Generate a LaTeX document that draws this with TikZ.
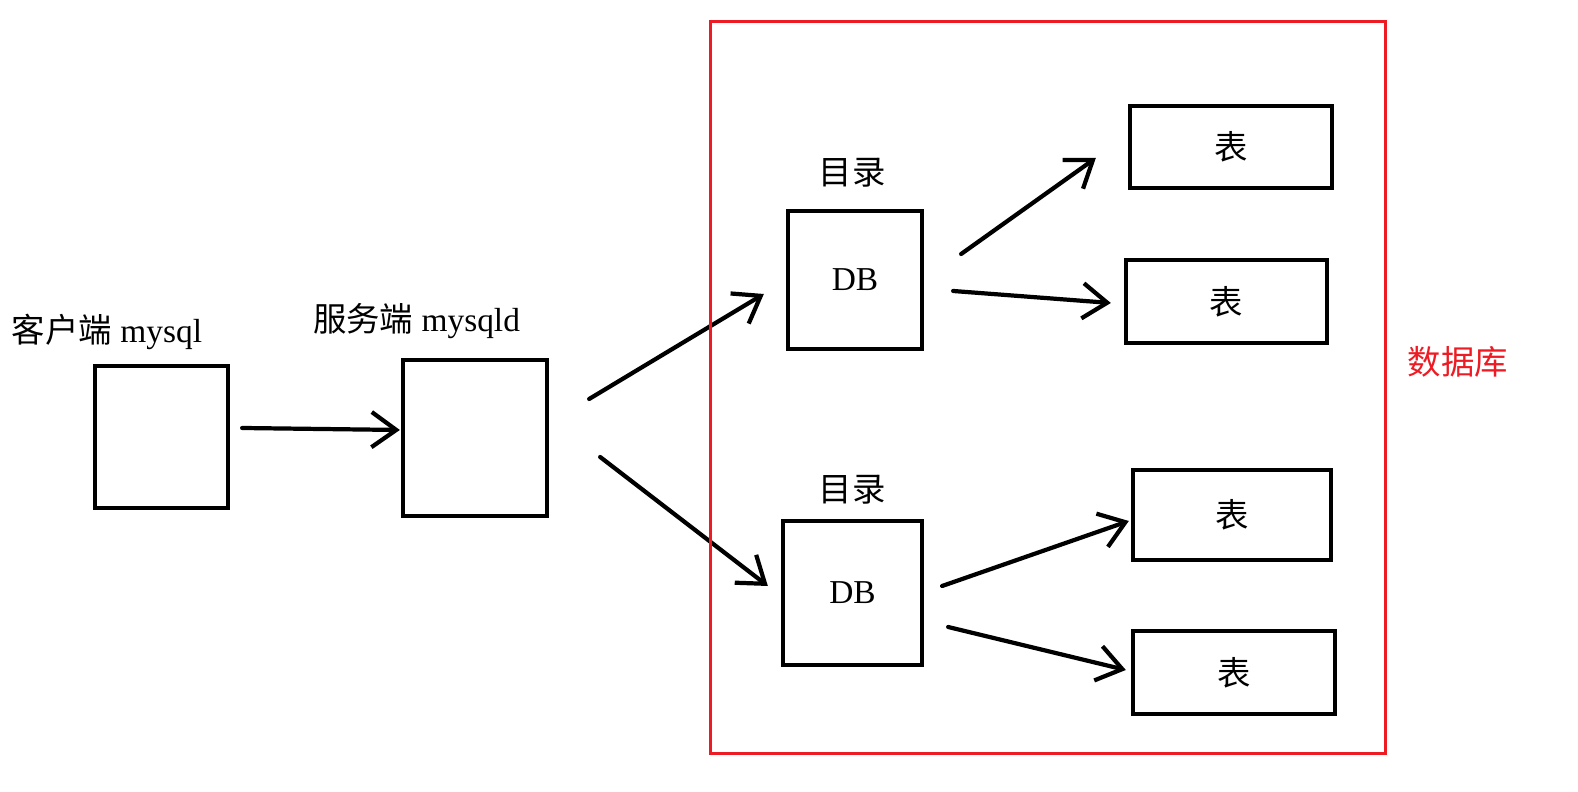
\documentclass[tikz,border=0pt]{standalone}
\usepackage{fontspec}
\setmainfont{Liberation Serif}
\newfontfamily\cjk{Noto Sans CJK SC}
\usepackage{xcolor}
\usetikzlibrary{arrows.meta,positioning,calc}
\definecolor{dbred}{RGB}{237,28,36}

\begin{document}
\begin{tikzpicture}[
    x=0.01cm, y=-0.01cm,
    box/.style={rectangle, draw=black, line width=1.2pt, inner sep=0pt, font=\fontsize{9.5pt}{11pt}\selectfont},
    tablebox/.style={box, font=\fontsize{9.5pt}{11pt}\selectfont\cjk},
    lbl/.style={inner sep=0pt, font=\fontsize{9.5pt}{11pt}\selectfont},
    arrow/.style={-{Straight Barb[length=7pt,width=10pt]}, line width=1.2pt, line cap=round}
]
    \useasboundingbox (0,0) rectangle (1578,792);

    % client and server
    \node[box, minimum width=1.33cm, minimum height=1.42cm] (client) at (161.5,437) {};
    \node[box, minimum width=1.44cm, minimum height=1.56cm] (server) at (475,438) {};
    \node[lbl] (clientlbl) at (107,332) {{\cjk 客户端} mysql};
    \node[lbl] (serverlbl) at (416.5,321) {{\cjk 服务端} mysqld};

    % databases
    \node[box, minimum width=1.34cm, minimum height=1.38cm] (db1) at (855,280) {DB};
    \node[box, minimum width=1.39cm, minimum height=1.44cm] (db2) at (852.5,593) {DB};
    \node[lbl] (dir1) at (852,173) {\cjk 目录};
    \node[lbl] (dir2) at (852,490) {\cjk 目录};

    % tables
    \node[tablebox, minimum width=2.02cm, minimum height=0.82cm] (t1) at (1231,147) {表};
    \node[tablebox, minimum width=2.01cm, minimum height=0.83cm] (t2) at (1226.5,301.5) {表};
    \node[tablebox, minimum width=1.98cm, minimum height=0.90cm] (t3) at (1232,515) {表};
    \node[tablebox, minimum width=2.02cm, minimum height=0.83cm] (t4) at (1234,672.5) {表};

    \draw[arrow] ($(client.east)+(12,-9)$) -- ($(server.west)+(-1,-8)$);
    \draw[arrow] ($(server.east)+(40,-39)$) -- ($(db1.west)+(-22,14)$);
    \draw[arrow] ($(server.east)+(51,19)$) -- ($(db2.west)+(-13,-7)$);
    \draw[arrow] ($(db1.east)+(37,-26)$) -- ($(t1.west)+(-32,11)$);
    \draw[arrow] ($(db1.east)+(29,11)$) -- ($(t2.west)+(-13,1.5)$);
    \draw[arrow] ($(db2.east)+(18,-7)$) -- ($(t3.west)+(-2,6)$);
    \draw[arrow] ($(db2.east)+(24,34)$) -- ($(t4.west)+(-5,-2.5)$);

    % database frame
    \node[draw=dbred, line width=0.85pt, inner sep=0pt, minimum width=6.74cm, minimum height=7.31cm] (dbframe) at (1048,387.5) {};
    \node[lbl, text=dbred] (dblbl) at (1458,362) {\cjk 数据库};
\end{tikzpicture}
\end{document}
